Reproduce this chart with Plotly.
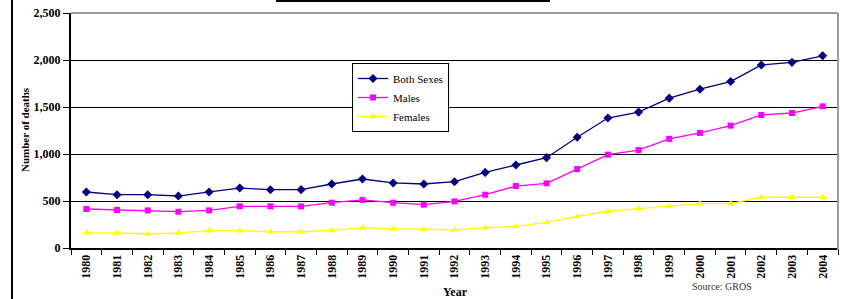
import plotly.graph_objects as go

years = [str(y) for y in range(1980, 2005)]
both_sexes = [596, 567, 567, 553, 596, 638, 620, 621, 681, 734, 692, 681, 705, 804, 883, 961,
              1178, 1383, 1446, 1594, 1689, 1771, 1947, 1975, 2045]
males = [415, 404, 400, 386, 400, 443, 443, 443, 482, 511, 482, 461, 496, 567, 659, 688,
         840, 993, 1042, 1161, 1224, 1302, 1415, 1436, 1507]
females = [160, 160, 149, 160, 184, 184, 173, 173, 187, 216, 202, 202, 191, 216, 230, 272,
           336, 389, 418, 443, 472, 472, 540, 540, 540]
y_ticks = [0, 500, 1000, 1500, 2000, 2500]

FONT = "Liberation Serif"
W, H = 850, 299
L, R, T, B = 71, 12, 13, 51
pw, ph = W - L - R, H - T - B

def px(x):
    return (x - L) / pw

def py(y):
    return (H - B - y) / ph

fig = go.Figure()
fig.add_trace(go.Scatter(x=years, y=both_sexes, name="Both Sexes", mode="lines+markers",
                         line=dict(color="#000080", width=1.3),
                         marker=dict(symbol="diamond", size=7, color="#000080")))
fig.add_trace(go.Scatter(x=years, y=males, name="Males", mode="lines+markers",
                         line=dict(color="#FF00FF", width=1.3),
                         marker=dict(symbol="square", size=6, color="#FF00FF")))
fig.add_trace(go.Scatter(x=years, y=females, name="Females", mode="lines+markers",
                         line=dict(color="#FFFF00", width=1.3),
                         marker=dict(symbol="triangle-up", size=7, color="#FFFF00")))

fig.update_layout(
    width=W, height=H,
    margin=dict(l=L, r=R, t=T, b=B, autoexpand=False),
    paper_bgcolor="white", plot_bgcolor="white",
    font=dict(family=FONT, color="black"),
    showlegend=True,
    legend=dict(x=px(352), y=py(63), xanchor="left", yanchor="top",
                bordercolor="black", borderwidth=1, bgcolor="white",
                font=dict(family=FONT, size=11, color="black"),
                tracegroupgap=0, itemwidth=30),
    xaxis=dict(type="category", showgrid=False, showline=True, linecolor="black", linewidth=2,
               ticks="outside", tickson="boundaries", ticklen=5, tickcolor="black", tickwidth=1,
               tickangle=-90, tickfont=dict(family=FONT, size=12, color="black", weight="bold"),
               automargin=False, range=[-0.5, 24.5]),
    yaxis=dict(range=[0, 2500], tickvals=y_ticks, tickformat=",d",
               showgrid=True, gridcolor="black", gridwidth=1,
               showline=True, linecolor="black", linewidth=2,
               ticks="outside", ticklen=6, tickcolor="black", tickwidth=1,
               tickfont=dict(family=FONT, size=12, color="black", weight="bold"),
               zeroline=False, automargin=False),
    shapes=[
        dict(type="line", xref="paper", yref="paper", x0=0, x1=1, y0=1, y1=1,
             line=dict(color="#9a9a9a", width=2)),
        dict(type="line", xref="paper", yref="paper", x0=1, x1=1, y0=py(250), y1=1,
             line=dict(color="#9a9a9a", width=2)),
        dict(type="line", xref="paper", yref="paper", x0=px(12), x1=px(12), y0=py(299), y1=py(0),
             line=dict(color="black", width=2)),
        dict(type="line", xref="paper", yref="paper", x0=px(276), x1=px(550), y0=py(1), y1=py(1),
             line=dict(color="black", width=2)),
    ],
    annotations=[
        dict(text="<b>Number of deaths</b>", xref="paper", yref="paper", x=px(25), y=py(130),
             textangle=-90, showarrow=False, xanchor="center", yanchor="middle",
             font=dict(family=FONT, size=11, color="black")),
        dict(text="<b>Year</b>", xref="paper", yref="paper", x=px(455), y=py(292),
             showarrow=False, xanchor="center", yanchor="middle",
             font=dict(family=FONT, size=12, color="black")),
        dict(text="Source: GROS", xref="paper", yref="paper", x=px(722), y=py(286),
             showarrow=False, xanchor="center", yanchor="middle",
             font=dict(family=FONT, size=10, color="#333333")),
    ],
)

fig.write_html("out.html", config={"displayModeBar": False},
               post_script="document.body.style.margin='0';document.body.style.padding='0';"
                           "document.body.style.overflow='hidden';")
